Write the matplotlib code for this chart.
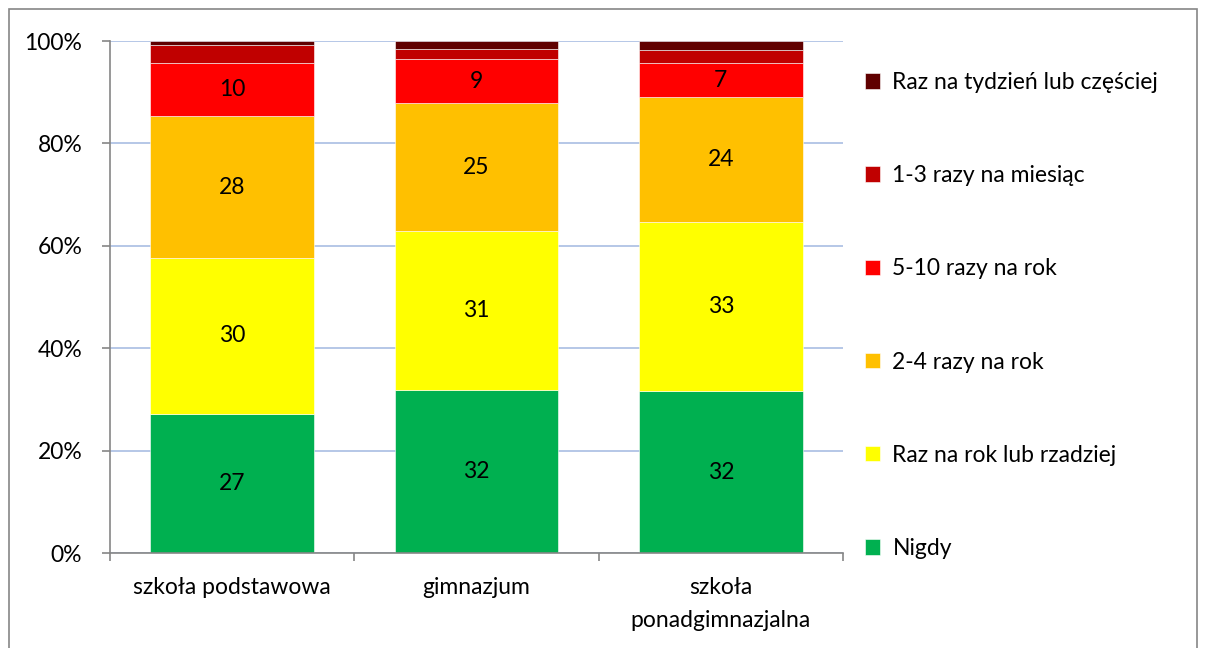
import matplotlib.pyplot as plt
import matplotlib.patches as mpatches
import numpy as np

plt.rcParams['font.family'] = ['Lato', 'DejaVu Sans']

##############################################
### Dane

kategorie = ['szkoła podstawowa', 'gimnazjum', 'szkoła\nponadgimnazjalna']
serie = ['Nigdy', 'Raz na rok lub rzadziej', '2-4 razy na rok',
         '5-10 razy na rok', '1-3 razy na miesiąc', 'Raz na tydzień lub częściej']
nigdy      = [27.2, 31.8, 31.6]
raz_rok    = [30.4, 31.1, 33.0]
dwa_cztery = [27.7, 24.9, 24.4]
piec_dzies = [10.4, 8.6, 6.7]
miesiac    = [3.5, 2.0, 2.6]
tydzien    = [0.8, 1.6, 1.7]
kolory = ['#00B050', '#FFFF00', '#FFC000', '#FF0000', '#C00000', '#600000']

dane = [nigdy, raz_rok, dwa_cztery, piec_dzies, miesiac, tydzien]

FS = 16.5

##############################################
### Rysunek

fig = plt.figure(figsize=(12.06, 6.48), dpi=100)
ax = fig.add_axes([110/1206, 1-553/648, 733/1206, 512/648])

x = np.arange(len(kategorie))
dol = np.zeros(len(kategorie))
uchwyty = []
for i, wart in enumerate(dane):
    b = ax.bar(x, wart, 0.67, bottom=dol, color=kolory[i],
               edgecolor='#ffffff', linewidth=0.4, label=serie[i], zorder=3)
    uchwyty.append(b)
    if i < 4:
        for xi, w, d in zip(x, wart, dol):
            ax.text(xi, d + w/2, '%d' % round(w), ha='center', va='center',
                    fontsize=FS, color='black', zorder=4)
    dol += np.array(wart)

ax.set_xlim(-0.5, 2.5)
ax.set_ylim(0, 100)
ax.set_yticks(np.arange(0, 101, 20))
ax.set_yticklabels(['%d%%' % v for v in range(0, 101, 20)], fontsize=FS)
ax.set_xticks(x)
ax.set_xticklabels(kategorie, fontsize=FS, linespacing=1.75)
ax.set_xticks([-0.5, 0.5, 1.5, 2.5], minor=True)
ax.tick_params(axis='x', which='major', length=0, pad=17)
ax.tick_params(axis='x', which='minor', length=6, color='#868686', width=1.2)
ax.tick_params(axis='y', length=6, color='#868686', width=1.2, pad=14)

ax.yaxis.grid(True, color='#A9BDE3', linewidth=1.2, zorder=0)
for s in ['top', 'right']:
    ax.spines[s].set_visible(False)
for s in ['left', 'bottom']:
    ax.spines[s].set_color('#868686')
    ax.spines[s].set_linewidth(1.2)
    ax.spines[s].set_zorder(5)

###############################################
### Legenda

leg = ax.legend(handles=uchwyty[::-1], loc='upper left',
                bbox_to_anchor=(865/1206, 1-72/648), bbox_transform=fig.transFigure,
                frameon=False, fontsize=FS, labelspacing=3.15,
                handlelength=0.65, handleheight=0.65, handletextpad=0.55,
                borderaxespad=0, borderpad=0)

# ramka
fig.patches.append(mpatches.Rectangle((9/1206, -0.01), 1188/1206, 1-9/648+0.01,
                                      transform=fig.transFigure, fill=False,
                                      edgecolor='#868686', linewidth=1.2))

plt.savefig('out.png', dpi=100)
